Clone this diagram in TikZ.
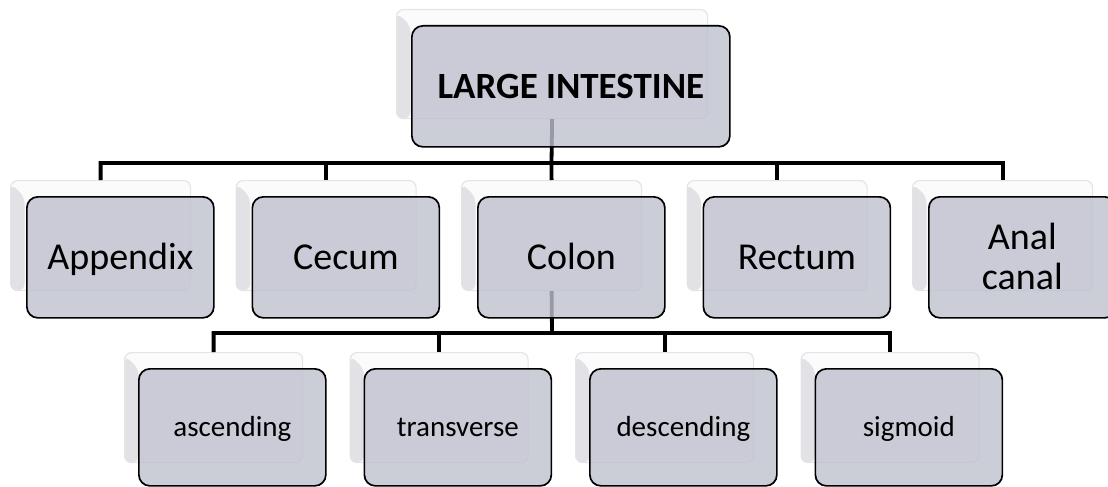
\documentclass[tikz,border=0pt]{standalone}
\usepackage{fontspec}
\setmainfont{Carlito}
\definecolor{boxfill}{RGB}{190,192,205}
\definecolor{backfill}{RGB}{251,251,251}
\definecolor{backline}{RGB}{228,228,231}
\definecolor{bevel}{RGB}{226,226,230}
\begin{document}
\begin{tikzpicture}[x=1pt,y=-1pt,
  backbox/.style={draw=backline, fill=backfill, line width=1.2pt, rounded corners=7pt,
    anchor=north west, inner sep=0pt, minimum width=180pt, minimum height=110pt,
    path picture={\fill[bevel] ([yshift=-3pt]path picture bounding box.north west) -- ++(14pt,-13pt)
      -- ([xshift=14pt]path picture bounding box.south west) -- (path picture bounding box.south west) -- cycle;}},
  frontbox/.style={draw=black, line width=1.7pt, fill=boxfill, fill opacity=0.8, text opacity=1,
    rounded corners=11pt, anchor=north west, inner sep=0pt, align=center,
    minimum width=187pt, minimum height=121pt, font=\fontsize{38}{40}\selectfont,
    text height=24.5pt, text depth=0pt},
  smallfront/.style={frontbox, minimum height=117pt, font=\fontsize{29}{34}\selectfont,
    text height=18.7pt},
  conn/.style={draw=black, line width=3.8pt}
]
\useasboundingbox (0,0) rectangle (1108,487);

% back boxes
\node[backbox, minimum width=311pt, minimum height=109pt] (liB) at (396,9) {};
\foreach \n [count=\i from 0] in {app,cec,col,rec,ana}{
  \node[backbox] (\n B) at (10+225.5*\i,180) {};
}
\foreach \n [count=\i from 0] in {asc,tra,des,sig}{
  \node[backbox, minimum width=178pt] (\n B) at (124+225.5*\i,352) {};
}

% connectors
\coordinate (bus1) at (551.5,163);
\coordinate (bus2) at (552,333);
\draw[conn] (liB.south) -- (bus1) -| (appB.north);
\draw[conn] (bus1) -| (cecB.north);
\draw[conn] (bus1) -- (colB.north);
\draw[conn] (bus1) -| (recB.north);
\draw[conn] (bus1) -| (anaB.north);
\draw[conn] (colB.south) -- (bus2) -| (ascB.north);
\draw[conn] (bus2) -| (traB.north);
\draw[conn] (bus2) -| (desB.north);
\draw[conn] (bus2) -| (sigB.north);

% front boxes
\node[frontbox, minimum width=318pt, font=\fontsize{37}{40}\selectfont\bfseries, text height=23.8pt] (li) at (411,25) {LARGE INTESTINE};
\node[frontbox] (app) at (26,196) {Appendix};
\node[frontbox] (cec) at (251.5,196) {Cecum};
\node[frontbox] (col) at (477,196) {Colon};
\node[frontbox] (rec) at (702.5,196) {Rectum};
\node[frontbox, text height=64.5pt] (ana) at (928,196) {Anal\\canal};
\node[smallfront] (asc) at (138,368) {ascending};
\node[smallfront] (tra) at (363.5,368) {transverse};
\node[smallfront] (des) at (589,368) {descending};
\node[smallfront] (sig) at (814.5,368) {sigmoid};
\end{tikzpicture}
\end{document}
